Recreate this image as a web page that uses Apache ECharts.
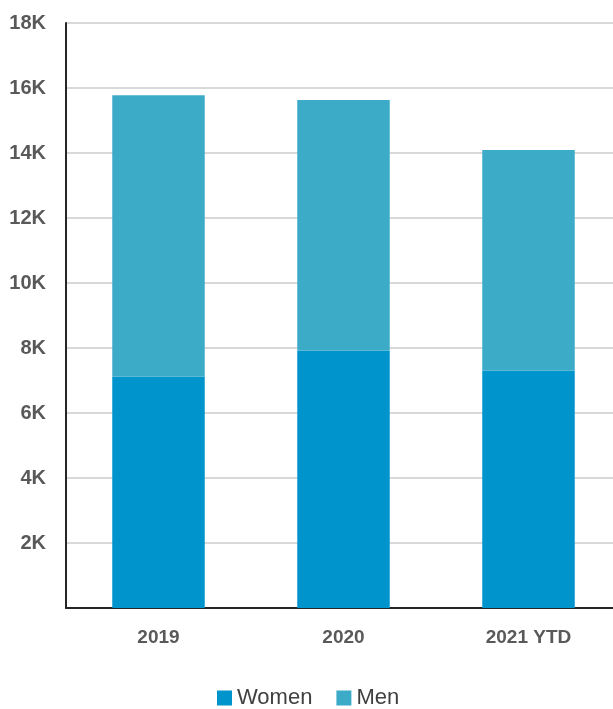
<!DOCTYPE html>
<html><head><meta charset="utf-8">
<script src="https://cdn.jsdelivr.net/npm/echarts@6/dist/echarts.min.js"></script>
<style>html,body{margin:0;padding:0;background:#fff;overflow:hidden;width:613px;height:709px}#c{width:621px;height:709px}</style>
</head><body><div id="c"></div>
<script>
const categories = ['2019', '2020', '2021 YTD'];
const women = [7120, 7920, 7310];
const men = [8660, 7710, 6780];
const yTicks = [0, 2000, 4000, 6000, 8000, 10000, 12000, 14000, 16000, 18000];

const chart = echarts.init(document.getElementById('c'));
chart.setOption({
  animation: false,
  grid: { left: 66, right: 0, top: 23, bottom: 101, containLabel: false },
  legend: {
    top: 682, left: 212, itemWidth: 15, itemHeight: 15, itemGap: 24,
    icon: 'rect',
    textStyle: { fontFamily: 'Liberation Sans', fontSize: 22, color: '#404040' },
    data: ['Women', 'Men']
  },
  xAxis: {
    type: 'category', data: categories,
    axisLine: { lineStyle: { color: '#262626', width: 2 } },
    axisTick: { show: false },
    axisLabel: { fontFamily: 'Liberation Sans', fontWeight: 'bold', fontSize: 19, color: '#595959', margin: 20 }
  },
  yAxis: {
    type: 'value', min: yTicks[0], max: yTicks[yTicks.length - 1], interval: yTicks[1] - yTicks[0],
    axisLine: { show: true, lineStyle: { color: '#262626', width: 2 } },
    axisTick: { show: false },
    splitLine: { lineStyle: { color: '#d9d9d9', width: 2 } },
    axisLabel: {
      fontFamily: 'Liberation Sans', fontWeight: 'bold', fontSize: 20, color: '#595959', margin: 20,
      formatter: v => (v === 0 ? '' : (v / 1000) + 'K')
    }
  },
  series: [
    { name: 'Women', type: 'bar', stack: 't', data: women, barWidth: '50%', itemStyle: { color: '#0094cc' } },
    { name: 'Men', type: 'bar', stack: 't', data: men, barWidth: '50%', itemStyle: { color: '#3cabc8' } }
  ]
});
</script></body></html>
